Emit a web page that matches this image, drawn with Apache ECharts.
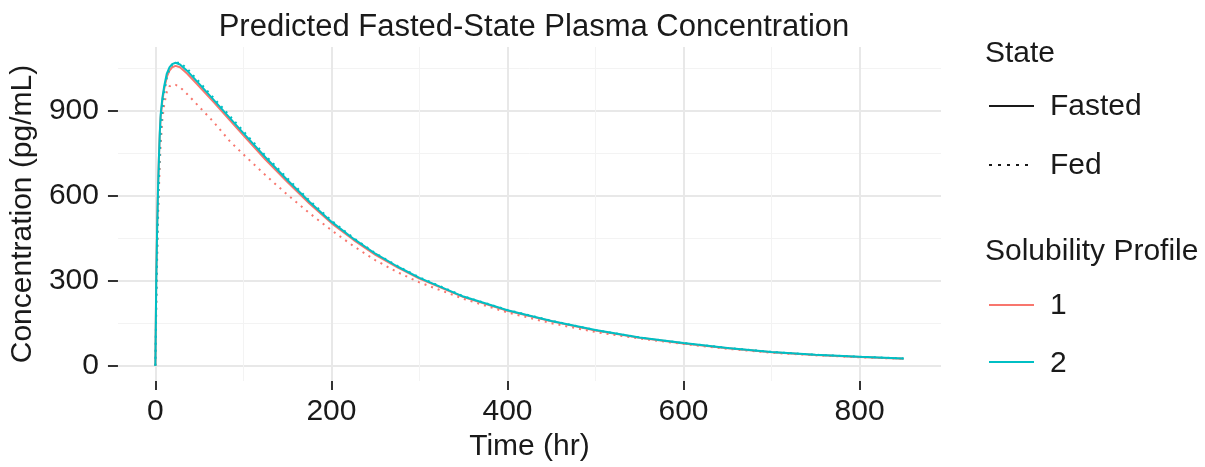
<!DOCTYPE html>
<html style="height: 100%">
<head>
<meta charset="utf-8">
</head>
<body style="height: 100%; margin: 0; background: #fff">
<div id="container" style="width: 1205px; height: 467px"></div>
<script type="text/javascript" src="https://cdn.jsdelivr.net/npm/echarts@6/dist/echarts.min.js"></script>
<script type="text/javascript">
// time points (hr)
var timeHr = [0, 0.5, 1, 2, 3, 4, 5, 6, 8, 10, 13, 16, 19, 23, 28, 36, 47, 66, 85, 100,
    125, 150, 175, 200, 225, 250, 275, 300, 350, 400, 450, 500, 550, 600, 650, 700, 750, 800, 850];

// concentration (pg/mL)
var prof1Fasted = [0, 160, 310, 490, 625, 730, 815, 875, 935, 975, 1018, 1040, 1052, 1057, 1052, 1030, 994, 930, 864, 812,
    727, 648, 572, 503, 444, 391, 347, 307, 242, 194, 157, 124, 99, 79, 62, 48, 38, 31, 25];
var prof1Fed = [0, 90, 200, 370, 510, 620, 710, 780, 870, 920, 965, 985, 991, 990, 982, 958, 922, 860, 790, 745,
    672, 603, 538, 478, 422, 372, 330, 294, 236, 188, 150, 119, 96, 77, 60, 46, 37, 30, 25];
var prof2Fasted = [0, 150, 300, 480, 620, 730, 820, 885, 945, 985, 1030, 1052, 1063, 1068, 1062, 1040, 1003, 938, 872, 820,
    735, 655, 578, 508, 448, 395, 350, 310, 244, 196, 158, 126, 100, 80, 63, 49, 39, 32, 26];
var prof2Fed = [0, 100, 220, 400, 550, 660, 750, 820, 905, 960, 1015, 1045, 1060, 1068, 1068, 1048, 1010, 945, 879, 827,
    741, 661, 583, 512, 451, 397, 352, 312, 245, 197, 159, 126, 100, 80, 63, 49, 39, 32, 26];

var xTicks = [0, 200, 400, 600, 800];
var xMinor = [100, 300, 500, 700];
var yTicks = [0, 300, 600, 900];
var yMinor = [150, 450, 750, 1050];

var col1 = '#F8766D';
var col2 = '#00BFC4';
var txt = '#1a1a1a';
var font = 'Liberation Sans, Arial, sans-serif';
var fs = 30;

function pairs(v) {
    return timeHr.map(function (t, i) { return [t, v[i]]; });
}

function line(name, vals, color, dotted) {
    return {
        name: name,
        type: 'line',
        data: pairs(vals),
        showSymbol: false,
        xAxisIndex: 0,
        yAxisIndex: 0,
        lineStyle: { color: color, width: 2, type: dotted ? [2, 5] : 'solid' }
    };
}

var dom = document.getElementById('container');
var myChart = echarts.init(dom);

var option = {
    animation: false,
    backgroundColor: '#fff',
    title: {
        text: 'Predicted Fasted-State Plasma Concentration',
        left: 529,
        top: 7,
        textAlign: 'center',
        textStyle: { fontFamily: font, fontSize: 31, fontWeight: 'normal', color: txt }
    },
    grid: { left: 117, top: 47, width: 824, height: 334 },
    xAxis: [{
        type: 'value', min: -42.5, max: 892.5,
        name: 'Time (hr)', nameLocation: 'middle', nameGap: 51,
        nameTextStyle: { fontFamily: font, fontSize: fs, color: txt },
        axisLine: { show: false, onZero: false },
        axisTick: { show: true, inside: false, length: 9, customValues: xTicks, lineStyle: { color: '#333', width: 2 } },
        axisLabel: { customValues: xTicks, margin: 16, fontFamily: font, fontSize: fs, color: txt },
        splitLine: { show: true, lineStyle: { color: '#e8e8e8', width: 2 } }
    }, {
        type: 'value', min: -42.5, max: 892.5, position: 'top',
        axisLine: { show: false }, axisLabel: { show: false },
        axisTick: { show: false, customValues: xMinor },
        splitLine: { show: true, lineStyle: { color: '#f3f3f3', width: 1 } }
    }],
    yAxis: [{
        type: 'value', min: -53.5, max: 1123.5,
        name: 'Concentration (pg/mL)', nameLocation: 'middle', nameGap: 70,
        nameTextStyle: { fontFamily: font, fontSize: fs, color: txt },
        axisLine: { show: false, onZero: false },
        axisTick: { show: true, inside: false, length: 10, customValues: yTicks, lineStyle: { color: '#333', width: 2 } },
        axisLabel: { customValues: yTicks, margin: 19, fontFamily: font, fontSize: fs, color: txt },
        splitLine: { show: true, lineStyle: { color: '#e8e8e8', width: 2 } }
    }, {
        type: 'value', min: -53.5, max: 1123.5, position: 'right',
        axisLine: { show: false }, axisLabel: { show: false },
        axisTick: { show: false, customValues: yMinor },
        splitLine: { show: true, lineStyle: { color: '#f3f3f3', width: 1 } }
    }],
    graphic: [
        { type: 'text', left: 985, top: 39, style: { text: 'State', font: fs + 'px ' + font, fill: txt } },
        { type: 'line', shape: { x1: 989, y1: 106, x2: 1034, y2: 106 }, style: { stroke: '#1a1a1a', lineWidth: 2 } },
        { type: 'text', left: 1050, top: 92, style: { text: 'Fasted', font: fs + 'px ' + font, fill: txt } },
        { type: 'line', shape: { x1: 989, y1: 165, x2: 1034, y2: 165 }, style: { stroke: '#1a1a1a', lineWidth: 2, lineDash: [3, 6] } },
        { type: 'text', left: 1050, top: 151, style: { text: 'Fed', font: fs + 'px ' + font, fill: txt } },
        { type: 'text', left: 985, top: 237, style: { text: 'Solubility Profile', font: fs + 'px ' + font, fill: txt } },
        { type: 'line', shape: { x1: 989, y1: 305, x2: 1034, y2: 305 }, style: { stroke: col1, lineWidth: 2 } },
        { type: 'text', left: 1050, top: 291, style: { text: '1', font: fs + 'px ' + font, fill: txt } },
        { type: 'line', shape: { x1: 989, y1: 362, x2: 1034, y2: 362 }, style: { stroke: col2, lineWidth: 2 } },
        { type: 'text', left: 1050, top: 349, style: { text: '2', font: fs + 'px ' + font, fill: txt } }
    ],
    series: [
        line('1 Fasted', prof1Fasted, col1, false),
        line('1 Fed', prof1Fed, col1, true),
        line('2 Fasted', prof2Fasted, col2, false),
        line('2 Fed', prof2Fed, col2, true)
    ]
};

myChart.setOption(option, true);
</script>
</body>
</html>
